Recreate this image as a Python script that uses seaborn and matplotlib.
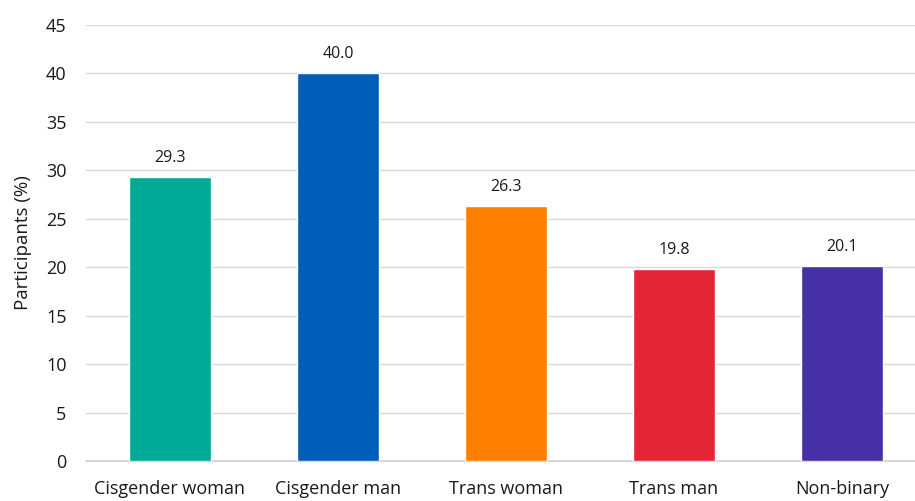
import matplotlib
matplotlib.use("Agg")
import matplotlib.pyplot as plt
import seaborn as sns
import pandas as pd

categories = ["Cisgender woman", "Cisgender man", "Trans woman", "Trans man", "Non-binary"]
values = [29.3, 40.0, 26.3, 19.8, 20.1]
colors = ["#00A896", "#005EB8", "#FF7F00", "#E32636", "#4530A8"]
y_ticks = [0, 5, 10, 15, 20, 25, 30, 35, 40, 45]

sns.set_theme(style="white")
plt.rcParams["font.family"] = ["Open Sans", "DejaVu Sans"]

df = pd.DataFrame({"group": categories, "pct": values})

fig = plt.figure(figsize=(9.15, 5.01), dpi=100)
ax = fig.add_axes([86 / 915, 1 - 461 / 501, 840 / 915, (461 - 25) / 501])

sns.barplot(data=df, x="group", y="pct", hue="group", palette=colors,
            width=0.49, saturation=1, legend=False, ax=ax, zorder=3)

ax.set_ylim(0, 45)
ax.set_xlim(-0.5, 4.5)
ax.set_yticks(y_ticks)
ax.yaxis.grid(True, color="#d9d9d9", linewidth=1, zorder=0)
ax.set_axisbelow(True)

for s in ["top", "right", "left"]:
    ax.spines[s].set_visible(False)
ax.spines["bottom"].set_color("#d0d0d0")
ax.spines["bottom"].set_linewidth(1.2)

ax.tick_params(axis="x", length=0, pad=14, labelsize=13, colors="#1a1a1a")
ax.tick_params(axis="y", length=0, pad=14, labelsize=13, colors="#1a1a1a")
ax.set_xlabel("")
ax.set_ylabel("Participants (%)", fontsize=13.5, color="#1a1a1a", labelpad=10)

for i, v in enumerate(values):
    ax.annotate(f"{v:.1f}", xy=(i, v), xytext=(0, 8), textcoords="offset points",
                ha="center", va="bottom", fontsize=11.5, color="#1a1a1a")

fig.savefig("out.png", dpi=100)
